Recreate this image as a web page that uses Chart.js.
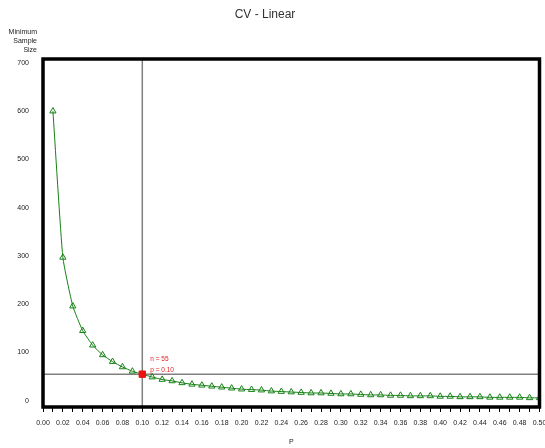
<!DOCTYPE html>
<html>
<head>
<meta charset="utf-8">
<script src="https://cdn.jsdelivr.net/npm/chart.js@4.4.1/dist/chart.umd.min.js"></script>
<style>
  html, body { margin: 0; padding: 0; background: #fff; overflow: hidden; }
  #wrap { width: 545px; height: 448px; position: relative; }
</style>
</head>
<body>
<div id="wrap"><canvas id="cvChart" width="545" height="448"></canvas></div>
<script>
// data
const chartTitle = 'CV - Linear';
const yTitleLines = ['Minimum', 'Sample', 'Size'];
const xTitle = 'P';
const pValues = [0.01, 0.02, 0.03, 0.04, 0.05, 0.06, 0.07, 0.08, 0.09, 0.10,
  0.11, 0.12, 0.13, 0.14, 0.15, 0.16, 0.17, 0.18, 0.19, 0.20,
  0.21, 0.22, 0.23, 0.24, 0.25, 0.26, 0.27, 0.28, 0.29, 0.30,
  0.31, 0.32, 0.33, 0.34, 0.35, 0.36, 0.37, 0.38, 0.39, 0.40,
  0.41, 0.42, 0.43, 0.44, 0.45, 0.46, 0.47, 0.48, 0.49, 0.50];
const sampleSizes = [600, 297, 196, 145, 115, 95, 81, 70, 61, 55,
  49, 44, 41, 37, 34, 32, 30, 28, 26, 24,
  23, 22, 20, 19, 18, 17, 16, 16, 15, 14,
  14, 13, 12, 12, 11, 11, 10, 10, 10, 9,
  9, 8, 8, 8, 7, 7, 7, 7, 6, 6];
const yTickValues = [0, 100, 200, 300, 400, 500, 600, 700];
const selectedP = 0.10;
const selectedN = 55;

const FONT = '"Liberation Sans", Arial, sans-serif';
const Y_MIN = -13, Y_MAX = 708;

// title, axis titles, red annotation and the heavy frame
const decorPlugin = {
  id: 'decor',
  afterDraw(chart) {
    const { ctx, chartArea: a, scales } = chart;
    ctx.save();
    ctx.fillStyle = '#333';
    ctx.font = '12px ' + FONT;
    ctx.textAlign = 'center'; ctx.textBaseline = 'middle';
    ctx.fillText(chartTitle, 265, 15);

    ctx.font = '7px ' + FONT;
    ctx.fillStyle = '#222';
    ctx.textAlign = 'right';
    yTitleLines.forEach((t, i) => ctx.fillText(t, 37, 32 + i * 9));
    ctx.textAlign = 'center';
    ctx.fillText(xTitle, (a.left + a.right) / 2, 442);

    const px = scales.x.getPixelForValue(selectedP);
    const py = scales.y.getPixelForValue(selectedN);
    ctx.fillStyle = '#e02020';
    ctx.font = '6.5px ' + FONT;
    ctx.textAlign = 'left';
    ctx.fillText('n = ' + selectedN, px + 8, py - 15);
    ctx.fillText('p = ' + selectedP.toFixed(2), px + 8, py - 4);

    ctx.strokeStyle = '#000';
    ctx.lineWidth = 3.5;
    ctx.strokeRect(a.left, a.top, a.right - a.left, a.bottom - a.top);
    ctx.restore();
  }
};

const ctx = document.getElementById('cvChart').getContext('2d');
new Chart(ctx, {
  type: 'line',
  data: {
    datasets: [
      { label: 'n', data: pValues.map((p, i) => ({ x: p, y: sampleSizes[i] })),
        borderColor: '#168016', borderWidth: 1, backgroundColor: '#fff',
        pointStyle: 'triangle', pointRadius: 3.6, pointBorderWidth: 1, pointBorderColor: '#168016',
        pointBackgroundColor: 'rgba(255,255,255,0)', tension: 0.15, order: 2 },
      { label: 'selected', data: [{ x: selectedP, y: selectedN }],
        showLine: false, pointStyle: 'rect', pointRadius: 4.5,
        pointBackgroundColor: '#ee1111', pointBorderColor: '#ee1111', order: 0 },
      { label: 'vref', data: [{ x: selectedP, y: Y_MIN }, { x: selectedP, y: Y_MAX }],
        borderColor: '#808080', borderWidth: 1.5, pointRadius: 0, order: 3 },
      { label: 'href', data: [{ x: 0, y: selectedN }, { x: 0.5, y: selectedN }],
        borderColor: '#808080', borderWidth: 1.5, pointRadius: 0, order: 3 }
    ]
  },
  options: {
    responsive: false,
    animation: false,
    devicePixelRatio: 1,
    layout: { padding: { top: 59, right: 4, left: 0, bottom: 0 } },
    plugins: { legend: { display: false }, tooltip: { enabled: false } },
    scales: {
      x: {
        type: 'linear', min: 0, max: 0.5,
        // the last label is cut by the canvas edge in the original, so no extra padding
        afterFit(scale) { scale.height = 41; scale.paddingRight = 0; scale.paddingLeft = 0; },
        grid: { drawOnChartArea: false, drawTicks: true, tickLength: 5, color: '#000', lineWidth: 1 },
        border: { display: false },
        ticks: {
          stepSize: 0.01, autoSkip: false, maxRotation: 0, padding: 7,
          color: '#222', font: { family: FONT, size: 7 },
          callback: v => (Math.round(v * 100) % 2 === 0 ? v.toFixed(2) : '')
        }
      },
      y: {
        type: 'linear', min: Y_MIN, max: Y_MAX,
        afterFit(scale) { scale.width = 43; scale.paddingTop = 0; scale.paddingBottom = 0; },
        afterBuildTicks(scale) { scale.ticks = yTickValues.map(v => ({ value: v })); },
        grid: { display: false },
        border: { display: false },
        ticks: { padding: 6, color: '#222', font: { family: FONT, size: 7 } }
      }
    }
  },
  plugins: [decorPlugin]
});
</script>
</body>
</html>
